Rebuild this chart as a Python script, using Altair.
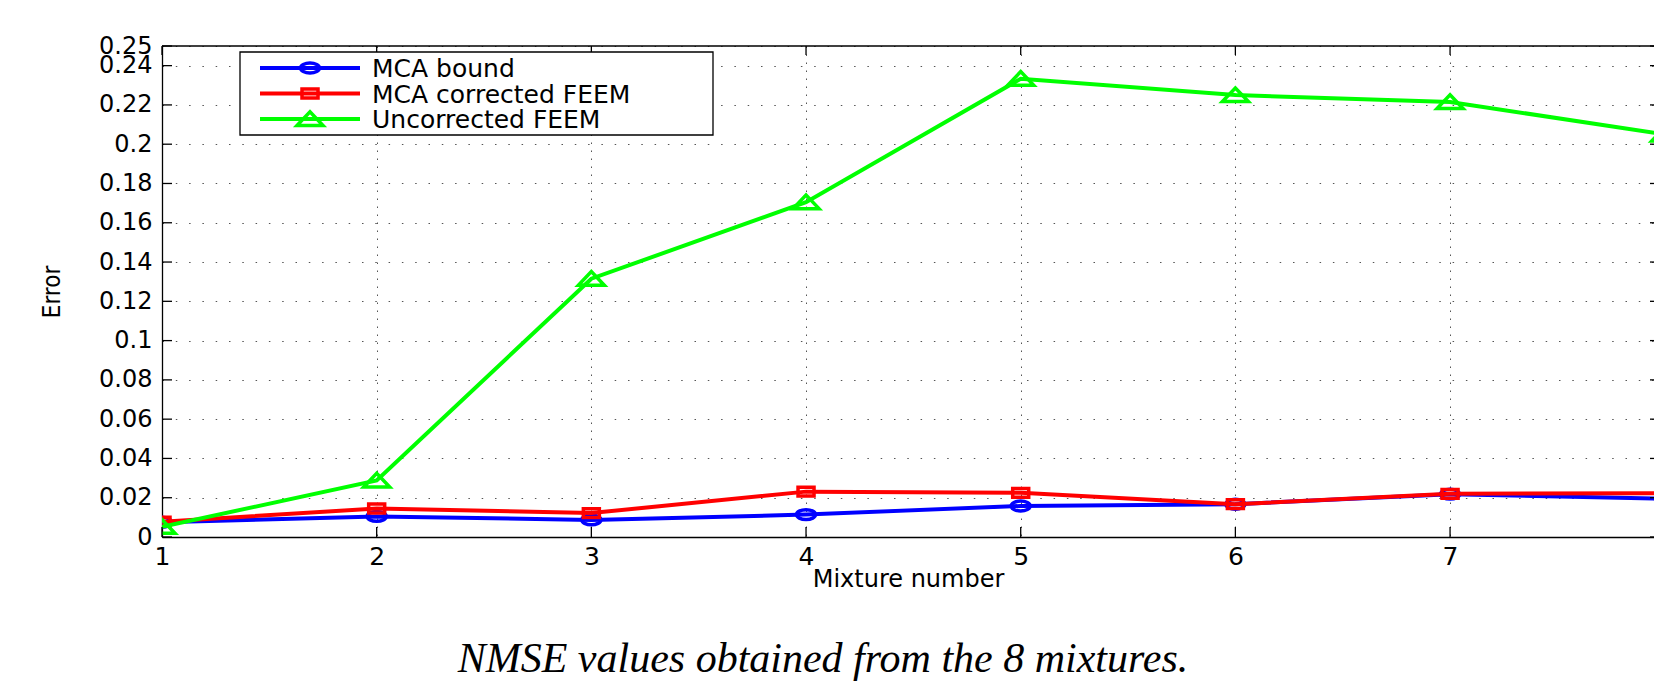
import altair as alt
import pandas as pd

# ---------------- data ----------------
mixtures = [1, 2, 3, 4, 5, 6, 7, 8]
mca_bound = [0.0075, 0.0105, 0.0087, 0.0114, 0.0158, 0.0167, 0.0218, 0.0195]
mca_corrected = [0.0078, 0.0145, 0.0122, 0.0231, 0.0225, 0.0167, 0.0220, 0.0223]
uncorrected = [0.0052, 0.0288, 0.1315, 0.1705, 0.2333, 0.2250, 0.2215, 0.2050]

series_names = ["MCA bound", "MCA corrected FEEM", "Uncorrected FEEM"]
series_values = [mca_bound, mca_corrected, uncorrected]
series_colors = ["#0000FF", "#FF0000", "#00FF00"]
series_shapes = [
    "M-1,0A1,0.52 0 1 1 1,0A1,0.52 0 1 1 -1,0Z",   # stretched circle
    "M-1,-0.55H1V0.55H-1Z",                         # stretched square
    "M-1,0.5L1,0.5L0,-0.55Z",                       # stretched triangle
]
series_sizes = [361, 256, 676]

x_ticks = [1, 2, 3, 4, 5, 6, 7]
y_ticks = [0, 0.02, 0.04, 0.06, 0.08, 0.1, 0.12, 0.14, 0.16, 0.18, 0.2, 0.22, 0.24, 0.25]
x_title = "Mixture number"
y_title = "Error"
caption = "NMSE values obtained from the 8 mixtures."

# ---------------- layout ----------------
W, H = 1492, 491
PAD_L, PAD_T = 162, 46
FONT = "DejaVu Sans"

xscale = alt.Scale(domain=[1, 7.95], nice=False, zero=False)
yscale = alt.Scale(domain=[0, 0.25], nice=False, zero=False)

x_axis = alt.Axis(
    values=x_ticks, title=x_title, ticks=False,
    labelFont=FONT, labelFontSize=25, labelColor="black",
    labelPadding=19, labelBaseline="middle", labelFlush=False, labelOverlap=False,
    domainColor="black", domainWidth=1.3,
    grid=True, gridDash=[1.5, 6.5], gridColor="#555555", gridWidth=1,
    titleFont=FONT, titleFontSize=24, titleFontWeight="normal", titleColor="black",
    titleY=42, titleBaseline="middle",
)
y_axis = alt.Axis(
    values=y_ticks, title=y_title, ticks=False, format="~g",
    labelFont=FONT, labelFontSize=24, labelColor="black",
    labelPadding=10, labelFlush=False, labelOverlap=False,
    domainColor="black", domainWidth=1.3,
    grid=True, gridDash=[1.5, 11.8], gridColor="#555555", gridWidth=1,
    titleFont="Liberation Sans Narrow, DejaVu Sans Condensed, sans-serif",
    titleFontSize=24, titleFontWeight="normal", titleColor="black",
    titleX=-110, titleBaseline="middle",
)


def X():
    return alt.X("Mixture:Q", scale=xscale, axis=x_axis)


def Y():
    return alt.Y("Error:Q", scale=yscale, axis=y_axis)


layers = []
one = pd.DataFrame({"k": [0]})

for name, vals, col, shp, sz in zip(series_names, series_values, series_colors, series_shapes, series_sizes):
    df = pd.DataFrame({"Mixture": mixtures, "Error": vals})
    line = alt.Chart(df).mark_line(color=col, strokeWidth=4, clip=True).encode(x=X(), y=Y())
    pts = alt.Chart(df).mark_point(
        shape=shp, size=sz, filled=False, stroke=col, strokeWidth=3.5, opacity=1, clip=True
    ).encode(x=X(), y=Y())
    layers += [line, pts]

# inward ticks (MATLAB style) and top border
ytick_df = pd.DataFrame({"Error": y_ticks})
xtick_df = pd.DataFrame({"Mixture": x_ticks})
left_ticks = alt.Chart(ytick_df).mark_rule(color="black", strokeWidth=1.3).encode(
    y=Y(), x=alt.value(0), x2=alt.value(10))
right_ticks = alt.Chart(ytick_df).mark_rule(color="black", strokeWidth=1.3).encode(
    y=Y(), x=alt.value(W - 4), x2=alt.value(W))
bottom_ticks = alt.Chart(xtick_df).mark_rule(color="black", strokeWidth=1.3).encode(
    x=X(), y=alt.value(H - 10), y2=alt.value(H))
top_ticks = alt.Chart(xtick_df).mark_rule(color="black", strokeWidth=1.3).encode(
    x=X(), y=alt.value(0), y2=alt.value(9))
top_border = alt.Chart(one).mark_rule(color="black", strokeWidth=1.3).encode(
    x=alt.value(0), x2=alt.value(W), y=alt.value(0))
layers += [left_ticks, right_ticks, bottom_ticks, top_ticks, top_border]

# legend box
LX0, LX1, LY0, LY1 = 78, 551, 6, 89
legend_box = alt.Chart(one).mark_rect(fill="white", stroke="black", strokeWidth=1.3).encode(
    x=alt.value(LX0), x2=alt.value(LX1), y=alt.value(LY0), y2=alt.value(LY1))
layers.append(legend_box)
for i, (name, col, shp, sz) in enumerate(zip(series_names, series_colors, series_shapes, series_sizes)):
    ry = 22 + 25.5 * i
    layers.append(alt.Chart(one).mark_rule(color=col, strokeWidth=4).encode(
        x=alt.value(98), x2=alt.value(198), y=alt.value(ry)))
    layers.append(alt.Chart(one).mark_point(
        shape=shp, size=sz, filled=False, stroke=col, strokeWidth=3.5, opacity=1).encode(
        x=alt.value(148), y=alt.value(ry)))
    layers.append(alt.Chart(pd.DataFrame({"name": [name]})).mark_text(
        align="left", baseline="middle", font=FONT, fontSize=25, color="black").encode(
        text="name:N", x=alt.value(210), y=alt.value(ry + 1)))

# caption
layers.append(alt.Chart(pd.DataFrame({"cap": [caption]})).mark_text(
    align="center", baseline="middle", font="Liberation Serif", fontStyle="italic",
    fontSize=42, color="black").encode(
    text="cap:N", x=alt.value(823 - PAD_L), y=alt.value(659 - PAD_T)))

chart = alt.layer(*layers).properties(
    width=W, height=H,
    autosize=alt.AutoSizeParams(type="none"),
    padding={"left": PAD_L, "top": PAD_T, "right": 0, "bottom": 681 - PAD_T - H},
    background="white",
).configure_view(strokeWidth=0)

chart.save("out.html", embed_options={"renderer": "svg", "actions": False})
